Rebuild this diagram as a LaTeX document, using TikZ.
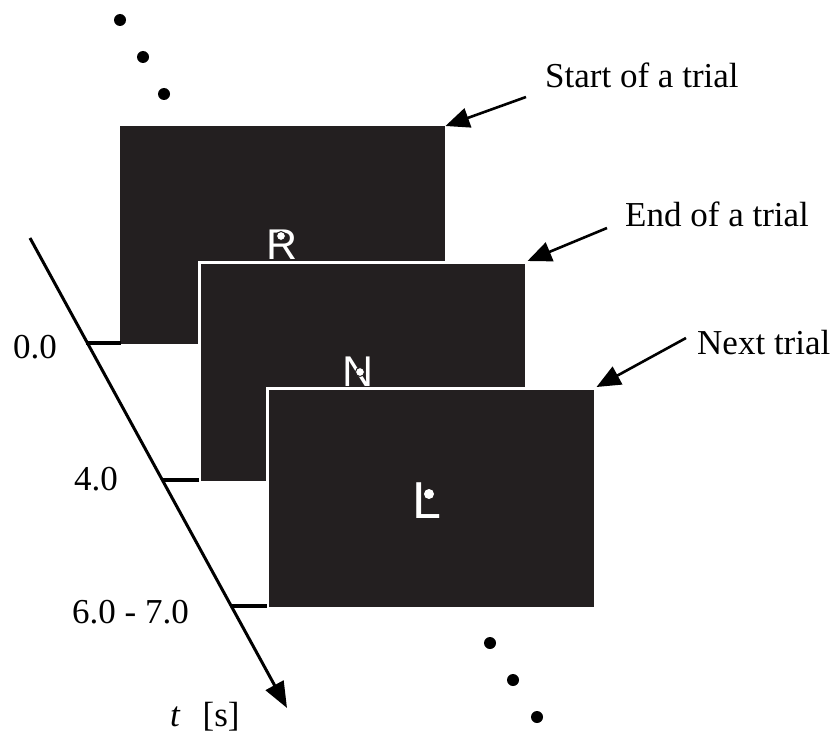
\documentclass[tikz,border=0pt]{standalone}
\usepackage{fontspec}
\setmainfont{Liberation Serif}
\newfontfamily\letterfont{Liberation Sans}
\usetikzlibrary{arrows.meta}
\definecolor{screen}{HTML}{231F20}
\begin{document}
\begin{tikzpicture}[x=1pt,y=-1pt,
  scr/.style={rectangle,fill=screen,inner sep=0pt,anchor=north west},
  scrb/.style={scr,draw=white,line width=2.5pt},
  lab/.style={font=\fontsize{35}{40}\selectfont,anchor=base west,inner sep=0pt},
  let/.style={font=\letterfont\fontsize{43}{45}\selectfont,text=white,anchor=base,inner sep=0pt},
  pt/.style={circle,fill=black,inner sep=0pt,minimum size=12pt},
  fix/.style={circle,fill=white,inner sep=0pt,minimum size=9pt},
  arr/.style={line width=2.6pt,-{Triangle[length=24pt,width=20pt]}},
  tick/.style={line width=3.5pt}]
\useasboundingbox (0,0) rectangle (834,733);
% screens
\node[scr,minimum width=325pt,minimum height=218pt] (s1) at (120,126) {};
\node[let] (R) at (282,259) {R};
\node[fix,draw=screen,line width=1pt] (fR) at (281,236) {};
\node[scrb,minimum width=327pt,minimum height=220pt] (s2) at (198,261) {};
\node[let] (N) at (358,386) {N};
\node[fix,draw=screen,line width=1pt] (fN) at (360,372) {};
\node[scrb,minimum width=328pt,minimum height=220pt] (s3) at (266,387) {};
\node[let,font=\letterfont\fontsize{52}{55}\selectfont] (L) at (427,518) {L};
\node[fix,minimum size=10pt] (fL) at (429,494) {};
% time axis
\coordinate (a0) at (30,238);
\coordinate (a1) at (287,708);
\draw[line width=3pt,-{Triangle[length=26pt,width=20pt]}] (a0) -- (a1);
\coordinate (t1) at (86,343);
\coordinate (t2) at (162,480);
\coordinate (t3) at (231,606);
\coordinate (e1) at (121,343);
\coordinate (e2) at (199,480);
\coordinate (e3) at (267,606);
\draw[tick] (t1) -- (e1);
\draw[tick] (t2) -- (e2);
\draw[tick] (t3) -- (e3);
\node[lab] (l0) at (13,358) {0.0};
\node[lab] (l4) at (74,490) {4.0};
\node[lab] (l6) at (72,623) {6.0 - 7.0};
\node[lab] (lt) at (170,726) {\textit{t}\hspace{22pt}[s]};
% labels with arrows
\node[lab] (st) at (545,88) {Start of a trial};
\node[lab] (en) at (625,226) {End of a trial};
\node[lab] (nx) at (697,354) {Next trial};
\coordinate (st0) at (526,97);
\coordinate (en0) at (607,228);
\coordinate (nx0) at (686,338);
\draw[arr] (st0) -- (s1.north east);
\draw[arr] (en0) -- (s2.north east);
\draw[arr] (nx0) -- (s3.north east);
% dots
\node[pt] (d1) at (120,20) {};
\node[pt] (d2) at (143,57) {};
\node[pt] (d3) at (164,94) {};
\node[pt] (d4) at (490,643) {};
\node[pt] (d5) at (513,680) {};
\node[pt] (d6) at (537,717) {};
\end{tikzpicture}
\end{document}
